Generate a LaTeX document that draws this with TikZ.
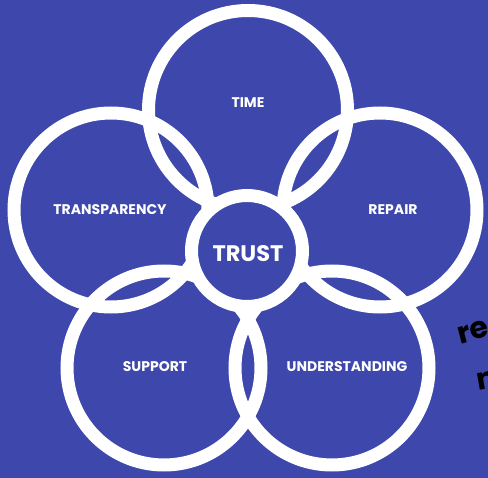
\documentclass[tikz,border=0pt]{standalone}
\usepackage{fontspec}
\setmainfont{Poppins}
\definecolor{bgblue}{RGB}{61,71,172}

\begin{document}
\begin{tikzpicture}[
		x=1pt, y=-1pt,
		ring/.style={line width=13pt, draw=white},
		hub/.style={line width=13pt, draw=white, fill=bgblue},
		lbl/.style={text=white, font=\bfseries\fontsize{14}{16}\selectfont},
		scrawl/.style={text=black, inner sep=0pt, font=\bfseries\fontsize{30}{30}\selectfont}
	]
	\fill[bgblue] (0,0) rectangle (488,478);
	\useasboundingbox (0,0) rectangle (488,478);
	% ring centres
	\coordinate (ctime) at (248,110);
	\coordinate (ctrans) at (111,210);
	\coordinate (crepair) at (380,210);
	\coordinate (csupp) at (164,368);
	\coordinate (cunder) at (332,368);
	\coordinate (ctrust) at (247,251);
	\draw[ring] (ctime) circle[radius=99.5pt];
	\draw[ring] (ctrans) circle[radius=97pt];
	\draw[ring] (crepair) circle[radius=97pt];
	\draw[ring] (csupp) circle[radius=97pt];
	\draw[ring] (cunder) circle[radius=97pt];
	\draw[hub] (ctrust) circle[radius=55.5pt];
	% labels
	\node[lbl] (time) at (248,103) {TIME};
	\node[lbl] (trans) at (110,210) {TRANSPARENCY};
	\node[lbl] (repair) at (393,210) {REPAIR};
	\node[lbl] (supp) at (155,367) {SUPPORT};
	\node[lbl] (under) at (347,367) {UNDERSTANDING};
	\node[text=white, font=\bfseries\fontsize{22.5}{24}\selectfont] (trust) at (248,254) {TRUST};
	% handwriting at the edge
	\node[scrawl, rotate=15, anchor=west] (hw1) at (458,336) {re};
	\node[scrawl, rotate=10, anchor=west] (hw2) at (477,382) {n};
\end{tikzpicture}
\end{document}
